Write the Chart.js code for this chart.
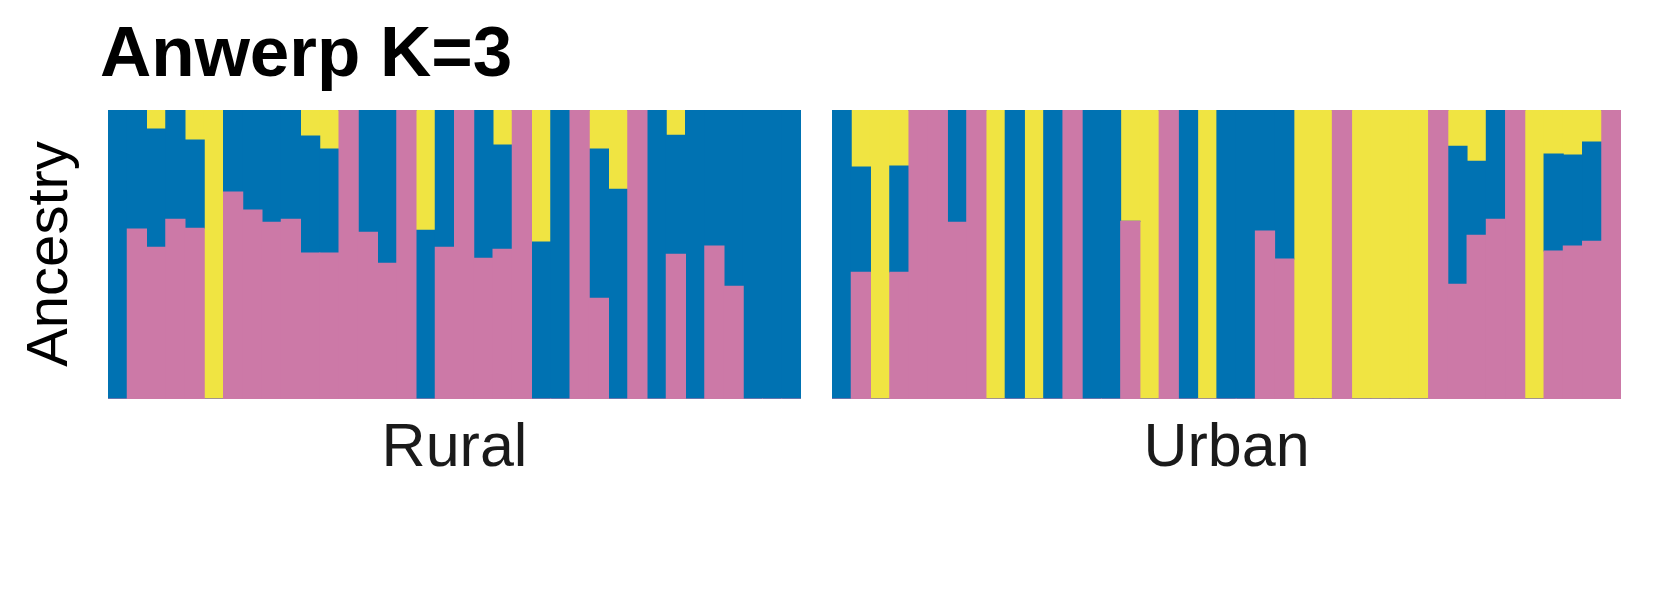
<!DOCTYPE html>
<html>
<head>
<meta charset="utf-8">
<script src="https://cdn.jsdelivr.net/npm/chart.js@4/dist/chart.umd.min.js"></script>
<style>
  html, body { margin: 0; padding: 0; background: #ffffff; }
  body { width: 1653px; height: 590px; position: relative; overflow: hidden; font-family: 'Liberation Sans', Arial, sans-serif; }
  .box { position: absolute; }
  .txt { position: absolute; line-height: 1; white-space: nowrap; }
</style>
</head>
<body>
<div class="txt" id="title" style="left:100px; top:16px; font-size:71px; font-weight:bold; color:#000;">Anwerp K=3</div>
<div class="txt" id="ylab" style="left:47px; top:254px; font-size:58px; color:#000; transform: translate(-50%,-50%) rotate(-90deg);">Ancestry</div>
<div class="txt" id="rlab" style="left:454.5px; top:415px; font-size:61px; color:#1a1a1a; transform: translateX(-50%);">Rural</div>
<div class="txt" id="ulab" style="left:1226.5px; top:415px; font-size:61px; color:#1a1a1a; transform: translateX(-50%);">Urban</div>
<div class="box" style="left:108px; top:110px; width:693px; height:289px;"><canvas id="rural"></canvas></div>
<div class="box" style="left:832px; top:110px; width:789px; height:289px;"><canvas id="urban"></canvas></div>
<script>
// Colours of the three ancestral clusters
const clusterNames = ['K1', 'K2', 'K3'];
const clusterColors = ['#CC79A7', '#0072B2', '#F0E442'];

// Rural individuals (36)
const ruralIds = Array.from({length: 36}, (_, i) => 'R' + (i + 1));
const ruralPink   = [0, .588, .525, .622, .591, 0, .716, .654, .612, .622, .505, .505, 1, .577, .47, 1, 0, .525, 1, .487, .518, 1, 0, 0, 1, .349, 0, 1, 0, .501, 0, .529, .39, 0, 0, 0];
const ruralBlue   = [1, .412, .409, .378, .305, 0, .284, .346, .388, .378, .405, .36, 0, .423, .53, 0, .584, .475, 0, .513, .361, 0, .543, 1, 0, .516, .726, 0, 1, .412, 1, .471, .61, 1, 1, 1];
const ruralYellow = [0, 0, .066, 0, .104, 1, 0, 0, 0, 0, .09, .135, 0, 0, 0, 0, .416, 0, 0, 0, .121, 0, .457, 0, 0, .135, .274, 0, 0, .087, 0, 0, 0, 0, 0, 0];

// Urban individuals (41)
const urbanIds = Array.from({length: 41}, (_, i) => 'U' + (i + 1));
const urbanPink   = [0, .439, 0, .439, 1, 1, .612, 1, 0, 0, 0, 0, 1, 0, 0, .615, 0, 1, 0, 0, 0, 0, .581, .484, 0, 0, 1, 0, 0, 0, 0, 1, .397, .567, .622, 1, 0, .512, .529, .546, 1];
const urbanBlue   = [1, .364, 0, .367, 0, 0, .388, 0, 0, 1, 0, 1, 0, 1, 1, 0, 0, 0, 1, 0, 1, 1, .419, .516, 0, 0, 0, 0, 0, 0, 0, 0, .478, .256, .378, 0, 0, .336, .315, .343, 0];
const urbanYellow = [0, .197, 1, .194, 0, 0, 0, 0, 1, 0, 1, 0, 0, 0, 0, .385, 1, 0, 0, 1, 0, 0, 0, 0, 1, 1, 0, 1, 1, 1, 1, 0, .125, .177, 0, 0, 1, .152, .156, .111, 0];

function makeChart(id, labels, series) {
  return new Chart(document.getElementById(id), {
    type: 'bar',
    data: {
      labels: labels,
      datasets: series.map((vals, k) => ({
        label: clusterNames[k],
        data: vals,
        backgroundColor: clusterColors[k],
        borderWidth: 0,
        categoryPercentage: 1,
        barPercentage: 1,
        inflateAmount: 0.5
      }))
    },
    options: {
      responsive: true,
      maintainAspectRatio: false,
      animation: false,
      layout: { padding: 0 },
      plugins: { legend: { display: false }, tooltip: { enabled: false }, title: { display: false } },
      scales: {
        x: { stacked: true, display: false, offset: true },
        y: { stacked: true, display: false, min: 0, max: 1 }
      }
    }
  });
}

makeChart('rural', ruralIds, [ruralPink, ruralBlue, ruralYellow]);
makeChart('urban', urbanIds, [urbanPink, urbanBlue, urbanYellow]);
</script>
</body>
</html>
